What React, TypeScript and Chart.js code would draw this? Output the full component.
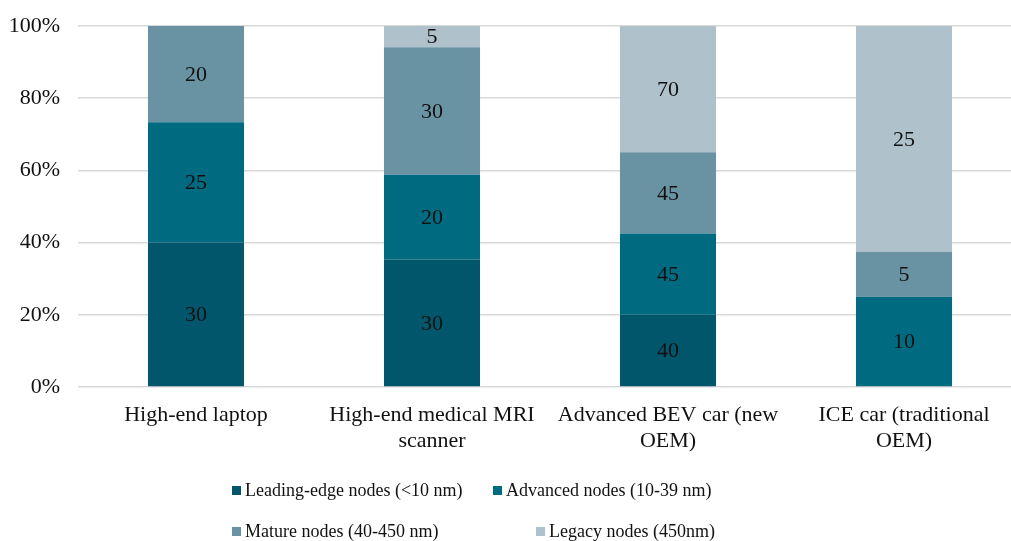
import React, { useEffect, useRef } from "react";
import { Chart, registerables } from "chart.js";

Chart.register(...registerables);

const categories: (string | string[])[] = [
  "High-end laptop",
  ["High-end medical MRI", "scanner"],
  ["Advanced BEV car (new", "OEM)"],
  ["ICE car (traditional", "OEM)"],
];
const seriesNames = [
  "Leading-edge nodes (<10 nm)",
  "Advanced nodes (10-39 nm)",
  "Mature nodes (40-450 nm)",
  "Legacy nodes (450nm)",
];
const leadingEdge = [30, 30, 40, 0];
const advanced = [25, 20, 45, 10];
const mature = [20, 30, 45, 5];
const legacy = [0, 5, 70, 25];
const yTickValues = [0, 20, 40, 60, 80, 100];

const seriesColors = ["#02566B", "#006A80", "#6993A3", "#AFC2CB"];
const FONT = "'Liberation Serif', 'Times New Roman', serif";

const rawSeries = [leadingEdge, advanced, mature, legacy];
const totals = categories.map((_, i) => rawSeries.reduce((s, arr) => s + arr[i], 0));

const dataLabelPlugin = {
  id: "dataLabels",
  afterDatasetsDraw(chart: any) {
    const ctx = chart.ctx;
    ctx.save();
    ctx.font = `22px ${FONT}`;
    ctx.fillStyle = "#111";
    ctx.textAlign = "center";
    ctx.textBaseline = "middle";
    chart.data.datasets.forEach((ds: any, di: number) => {
      const meta = chart.getDatasetMeta(di);
      meta.data.forEach((bar: any, i: number) => {
        const raw = ds.rawValues[i];
        if (!raw) return;
        const y = (bar.y + bar.base) / 2;
        ctx.fillText(String(raw), bar.x, y + 1);
      });
    });
    ctx.restore();
  },
};

const legendPlugin = {
  id: "customLegend",
  afterDraw(chart: any) {
    const ctx = chart.ctx;
    const h = chart.height;
    const rows = [
      [
        { i: 0, x: 232 },
        { i: 1, x: 493 },
      ],
      [
        { i: 2, x: 232 },
        { i: 3, x: 536 },
      ],
    ];
    const rowY = [h - 50, h - 9];
    ctx.save();
    ctx.font = `18px ${FONT}`;
    ctx.textBaseline = "middle";
    ctx.textAlign = "left";
    rows.forEach((row, ri) => {
      row.forEach(({ i, x }) => {
        const y = rowY[ri];
        ctx.fillStyle = seriesColors[i];
        ctx.fillRect(x, y - 5, 9, 9);
        ctx.fillStyle = "#111";
        ctx.fillText(seriesNames[i], x + 13, y);
      });
    });
    ctx.restore();
  },
};

export default function App() {
  const ref = useRef<HTMLCanvasElement | null>(null);
  useEffect(() => {
    if (!ref.current) return;
    const chart = new Chart(ref.current, {
      type: "bar",
      data: {
        labels: categories as any,
        datasets: rawSeries.map((arr, si) => ({
          label: seriesNames[si],
          data: arr.map((v, i) => (v / totals[i]) * 100),
          rawValues: arr,
          backgroundColor: seriesColors[si],
          borderWidth: 0,
          barPercentage: 0.407,
          categoryPercentage: 1,
        })) as any,
      },
      options: {
        responsive: false,
        animation: false,
        layout: { padding: { top: 26, right: 0, bottom: 70, left: 0 } },
        plugins: {
          legend: { display: false },
          tooltip: { enabled: false },
        },
        scales: {
          x: {
            stacked: true,
            grid: { display: false },
            border: { display: false },
            ticks: {
              color: "#111",
              font: { family: FONT, size: 22, lineHeight: 1.2 },
              padding: 7,
              maxRotation: 0,
              autoSkip: false,
            },
            afterFit: (s: any) => {
              s.height = 84;
              s.paddingLeft = 0;
              s.paddingRight = 0;
            },
          },
          y: {
            stacked: true,
            min: 0,
            max: 100,
            afterBuildTicks: (s: any) => {
              s.ticks = yTickValues.map((v) => ({ value: v }));
            },
            grid: { color: "#d9d9d9", lineWidth: 1.5, drawTicks: false },
            border: { display: false },
            ticks: {
              color: "#111",
              font: { family: FONT, size: 22 },
              padding: 18,
              callback: (v: any) => `${v}%`,
            },
            afterFit: (s: any) => {
              s.width = 78;
              s.paddingTop = 0;
              s.paddingBottom = 0;
            },
          },
        },
      },
      plugins: [dataLabelPlugin, legendPlugin],
    });
    return () => chart.destroy();
  }, []);
  return (
    <div style={{ position: "fixed", left: 0, top: 0, width: 1022, height: 541, background: "#fff" }}>
      <canvas ref={ref} width={1022} height={541} style={{ width: 1022, height: 541 }} />
    </div>
  );
}
